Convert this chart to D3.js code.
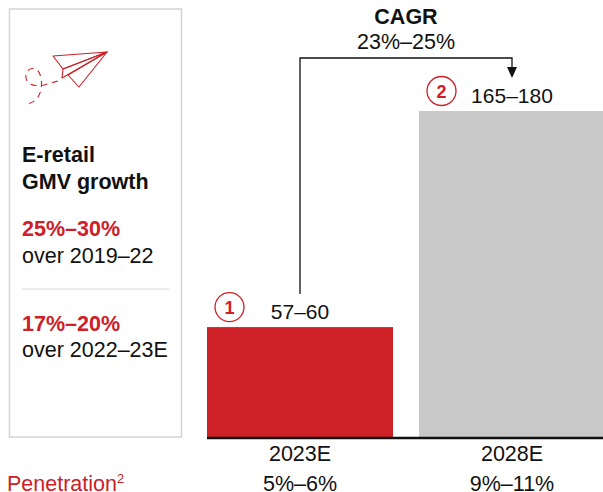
<!DOCTYPE html>
<html>
<head>
<meta charset="utf-8">
<script src="https://cdn.jsdelivr.net/npm/d3@7"></script>
<style>
  html, body { margin: 0; padding: 0; background: #fff; }
  svg { display: block; }
  text { font-family: "Liberation Sans", Arial, sans-serif; fill: #111; }
</style>
</head>
<body>
<svg width="603" height="492"></svg>
<script>
//  Data
const categories = ['2023E', '2028E'];
const barValues = [58.5, 172.5];            // midpoints of the ranges, $ billion
const rangeLabels = ['57–60', '165–180'];
const penetration = ['5%–6%', '9%–11%'];
const markerLabels = ['1', '2'];
const sidebarLines = [
    { text: 'E-retail', y: 162, bold: true, red: false },
    { text: 'GMV growth', y: 189, bold: true, red: false },
    { text: '25%–30%', y: 236, bold: true, red: true },
    { text: 'over 2019–22', y: 263, bold: false, red: false },
    { text: '17%–20%', y: 331, bold: true, red: true },
    { text: 'over 2022–23E', y: 357, bold: false, red: false }
];

const RED = '#cd2027';
const GREY = '#c9c9c9';
const FONT_SIZE = 21.5;

const svg = d3.select('svg');

//  Scales
const x = d3.scaleBand().domain(categories).range([207, 605]).paddingInner(0.1226);
const y = d3.scaleLinear().domain([0, d3.max(barValues)]).range([438, 111]);

//======================================================
//  Sidebar
//======================================================
const sidebar = svg.append('g').attr('id', 'sidebar');

sidebar.append('rect')
    .attr('x', 9.5).attr('y', 9)
    .attr('width', 172).attr('height', 428)
    .attr('fill', 'white')
    .attr('stroke', '#d4d4d4')
    .attr('stroke-width', 1.5);

sidebar.selectAll('text.line')
    .data(sidebarLines)
    .join('text')
    .attr('class', 'line')
    .attr('x', 22)
    .attr('y', d => d.y)
    .attr('font-size', FONT_SIZE)
    .attr('font-weight', d => d.bold ? 'bold' : 'normal')
    .style('fill', d => d.red ? RED : '#111')
    .text(d => d.text);

sidebar.append('line')
    .attr('x1', 22).attr('x2', 169)
    .attr('y1', 289).attr('y2', 289)
    .attr('stroke', '#d9d9d9')
    .attr('stroke-width', 1);

//  Paper plane icon
const plane = sidebar.append('g')
    .attr('id', 'plane')
    .attr('fill', 'none')
    .attr('stroke', RED)
    .attr('stroke-width', 1.1)
    .attr('stroke-linejoin', 'round');

plane.append('path').attr('d', 'M107,52 L53,56 L63,69 Z');
plane.append('path').attr('d', 'M107,52 L63,69 L62,78 Z');
plane.append('path').attr('d', 'M107,52 L68,75 L79,87 Z');

plane.append('path')
    .attr('d', 'M58,81 L44,85 C38,86 30,86 27,81 C24,75 27,69 32,68.5 C38,68 41,74 41.5,82 C42,92 38,104 24,104')
    .attr('stroke-dasharray', '6 5');

//======================================================
//  Bars and labels
//======================================================
svg.append('g')
    .attr('id', 'bars')
    .selectAll('rect')
    .data(categories)
    .join('rect')
    .attr('x', d => x(d))
    .attr('y', (d, i) => y(barValues[i]))
    .attr('width', x.bandwidth())
    .attr('height', (d, i) => y(0) - y(barValues[i]))
    .attr('fill', (d, i) => i === 0 ? RED : GREY);

//  Axis
const axis = svg.append('g')
    .attr('id', 'axis')
    .attr('transform', `translate(0,${y(0)})`)
    .call(d3.axisBottom(x).tickSize(0).tickPadding(8));

axis.select('.domain')
    .attr('d', 'M207,0H603')
    .attr('stroke', '#111')
    .attr('stroke-width', 2.5);

axis.selectAll('.tick text')
    .attr('font-size', FONT_SIZE)
    .style('font-family', '"Liberation Sans", Arial, sans-serif');

//  Range labels above bars
svg.append('g').selectAll('text')
    .data(categories)
    .join('text')
    .attr('x', d => x(d) + x.bandwidth() / 2)
    .attr('y', (d, i) => y(barValues[i]) - 8.5)
    .attr('text-anchor', 'middle')
    .attr('font-size', 21)
    .text((d, i) => rangeLabels[i]);

//  Penetration row
svg.append('g').selectAll('text')
    .data(categories)
    .join('text')
    .attr('x', d => x(d) + x.bandwidth() / 2)
    .attr('y', 491)
    .attr('text-anchor', 'middle')
    .attr('font-size', FONT_SIZE)
    .text((d, i) => penetration[i]);

const penLabel = svg.append('text')
    .attr('x', 7)
    .attr('y', 491)
    .attr('font-size', FONT_SIZE)
    .style('fill', RED)
    .text('Penetration');
penLabel.append('tspan')
    .attr('font-size', 13)
    .attr('dy', -8)
    .text('2');

//  Numbered markers
const markers = svg.append('g').selectAll('g')
    .data(categories)
    .join('g')
    .attr('transform', (d, i) => `translate(${x(d) + x.bandwidth() / 2 - 70.5},${y(barValues[i]) - 20})`);

markers.append('circle')
    .attr('r', 14.5)
    .attr('fill', 'white')
    .attr('stroke', RED)
    .attr('stroke-width', 1.3);

markers.append('text')
    .attr('text-anchor', 'middle')
    .attr('y', 6.5)
    .attr('font-size', 18)
    .attr('font-weight', 'bold')
    .style('fill', RED)
    .text((d, i) => markerLabels[i]);

//======================================================
//  CAGR bracket
//======================================================
svg.append('path')
    .attr('d', 'M300,294 V58 H512 V70')
    .attr('fill', 'none')
    .attr('stroke', '#111')
    .attr('stroke-width', 1.3);

svg.append('path')
    .attr('d', 'M507,67 L517,67 L512,78 Z')
    .attr('fill', '#111');

svg.append('text')
    .attr('x', 406).attr('y', 24)
    .attr('text-anchor', 'middle')
    .attr('font-size', FONT_SIZE)
    .attr('font-weight', 'bold')
    .text('CAGR');

svg.append('text')
    .attr('x', 406).attr('y', 49)
    .attr('text-anchor', 'middle')
    .attr('font-size', FONT_SIZE)
    .text('23%–25%');
</script>
</body>
</html>
